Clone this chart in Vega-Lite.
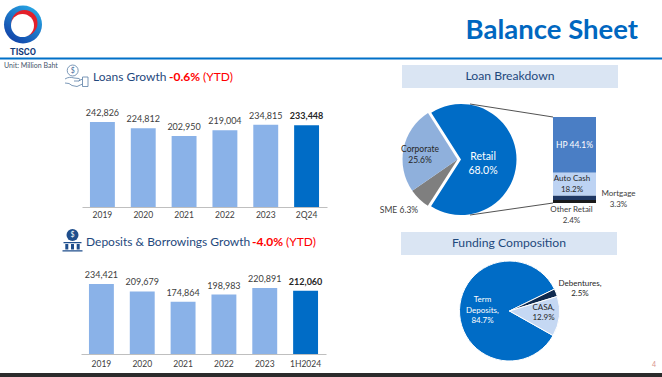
{
"$schema":"https://vega.github.io/schema/vega-lite/v6.json",
"width":662,"height":377,"padding":0,"autosize":{"type":"none"},
"background":"white",
"config":{"view":{"stroke":null},"text":{"font":"Lato"},"axis":{"labelFont":"Lato"}},
"data":{"values":[{}]},
"datasets":{
"loans":[{"period":"2019","amount":242826,"kind":"past"},{"period":"2020","amount":224812,"kind":"past"},{"period":"2021","amount":202950,"kind":"past"},{"period":"2022","amount":219004,"kind":"past"},{"period":"2023","amount":234815,"kind":"past"},{"period":"2Q24","amount":233448,"kind":"current"}],
"deposits":[{"period":"2019","amount":234421,"kind":"past"},{"period":"2020","amount":209679,"kind":"past"},{"period":"2021","amount":174864,"kind":"past"},{"period":"2022","amount":198983,"kind":"past"},{"period":"2023","amount":220891,"kind":"past"},{"period":"1H2024","amount":212060,"kind":"current"}],
"loanMix":[{"name":"Retail","share":68.0,"rank":1,"label":"Retail\n68.0%"},{"name":"SME","share":6.3,"rank":2,"label":"SME 6.3%"},{"name":"Corporate","share":25.6,"rank":3,"label":"Corporate\n25.6%"}],
"retailMix":[{"name":"HP","share":44.1,"rank":1,"label":"HP 44.1%"},{"name":"Auto Cash","share":18.2,"rank":2,"label":"Auto Cash\n18.2%"},{"name":"Mortgage","share":3.3,"rank":3,"label":"Mortgage\n3.3%"},{"name":"Other Retail","share":2.4,"rank":4,"label":"Other Retail\n2.4%"}],
"funding":[{"name":"Term Deposits","share":84.7,"rank":1,"label":"Term\nDeposits,\n84.7%"},{"name":"Debentures","share":2.5,"rank":2,"label":"Debentures,\n2.5%"},{"name":"CASA","share":12.9,"rank":3,"label":"CASA,\n12.9%"}]
},
"resolve":{"scale":{"x":"independent","y":"independent","theta":"independent","color":"independent"},"axis":{"x":"independent","y":"independent"}},
"layer":[
{"mark":{"type":"rect","fill":"#2B2B2B"},"encoding":{"x":{"value":0},"x2":{"value":662},"y":{"value":373},"y2":{"value":377}}},
{"mark":{"type":"rect","fill":"#0070C8"},"encoding":{"x":{"value":0},"x2":{"value":662},"y":{"value":57.5},"y2":{"value":59.5}}},
{"mark":{"type":"rect","fill":"#DAE5F3"},"encoding":{"x":{"value":402},"x2":{"value":618},"y":{"value":65},"y2":{"value":88}}},
{"mark":{"type":"rect","fill":"#DAE5F3"},"encoding":{"x":{"value":401},"x2":{"value":617},"y":{"value":232},"y2":{"value":255}}},
{"mark":{"type":"text","text":"Balance Sheet","x":638,"y":31,"align":"right","baseline":"middle","fontSize":27.5,"fontWeight":"bold","fill":"#0067C0"},"encoding":{}},
{"mark":{"type":"text","text":"Unit: Million Baht","x":4,"y":66,"align":"left","baseline":"middle","fontSize":7,"fill":"#44546A"},"encoding":{}},
{"mark":{"type":"text","text":"Loans Growth","x":93,"y":77,"align":"left","baseline":"middle","fontSize":12,"fill":"#1F497D"},"encoding":{}},
{"mark":{"type":"text","text":"-0.6%","x":169,"y":77,"align":"left","baseline":"middle","fontSize":12,"fontWeight":"bold","fill":"#FF0000"},"encoding":{}},
{"mark":{"type":"text","text":"(YTD)","x":203,"y":77,"align":"left","baseline":"middle","fontSize":12,"fill":"#FF0000"},"encoding":{}},
{"mark":{"type":"text","text":"Deposits & Borrowings Growth","x":86,"y":242,"align":"left","baseline":"middle","fontSize":12,"fill":"#1F497D"},"encoding":{}},
{"mark":{"type":"text","text":"-4.0%","x":252,"y":242,"align":"left","baseline":"middle","fontSize":12,"fontWeight":"bold","fill":"#FF0000"},"encoding":{}},
{"mark":{"type":"text","text":"(YTD)","x":286,"y":242,"align":"left","baseline":"middle","fontSize":12,"fill":"#FF0000"},"encoding":{}},
{"mark":{"type":"text","text":"Loan Breakdown","x":510,"y":76,"align":"center","baseline":"middle","fontSize":12.2,"fill":"#1F497D"},"encoding":{}},
{"mark":{"type":"text","text":"Funding Composition","x":509,"y":243,"align":"center","baseline":"middle","fontSize":12.2,"fill":"#1F497D"},"encoding":{}},
{"mark":{"type":"text","text":"4","x":654,"y":365,"align":"center","baseline":"middle","fontSize":7,"fill":"#D9948C"},"encoding":{}},

{"mark":{"type":"point","shape":"circle","x":23,"y":24.5,"size":1444,"filled":true,"opacity":1,"strokeWidth":0,"fill":{"x1":0.85,"y1":0.05,"x2":0.2,"y2":0.95,"gradient":"linear","stops":[{"offset":0,"color":"#27A9E6"},{"offset":1,"color":"#1242A8"}]}},"encoding":{}},
{"mark":{"type":"point","shape":"circle","x":24.5,"y":23,"size":676,"filled":true,"opacity":1,"strokeWidth":0,"fill":"#E3202A"},"encoding":{}},
{"mark":{"type":"point","shape":"circle","x":22.5,"y":25.5,"size":529,"filled":true,"opacity":1,"strokeWidth":0,"fill":"#FFFFFF"},"encoding":{}},
{"mark":{"type":"text","text":"TISCO","x":23,"y":51.5,"align":"center","baseline":"middle","fontSize":9,"font":"Roboto","fontWeight":"bold","fill":"#123A7A"},"encoding":{}},

{"mark":{"type":"point","shape":"circle","x":72.7,"y":70.5,"size":120,"filled":false,"opacity":1,"strokeWidth":0.8,"stroke":"#5B7FA6"},"encoding":{}},
{"mark":{"type":"text","text":"$","x":72.7,"y":70.7,"align":"center","baseline":"middle","fontSize":7,"fill":"#3F6B9E"},"encoding":{}},
{"mark":{"type":"point","shape":"M-1.1,0.1 C-0.8,-0.1 -0.5,-0.1 -0.2,0.0 L0.3,0.05 C0.45,0.1 0.4,0.3 0.25,0.3 L-0.2,0.3 M0.25,0.3 L0.65,0.1 M0.65,0.6 L0.1,0.85 L-0.4,0.75 L-0.7,0.55 L-1.1,0.5 M0.65,-0.1 L1.2,-0.1 L1.2,0.85 L0.65,0.85 Z","x":76,"y":78,"size":400,"filled":false,"opacity":1,"strokeWidth":0.8,"stroke":"#5B7FA6"},"encoding":{}},

{"mark":{"type":"point","shape":"circle","x":72.5,"y":235,"size":144,"filled":true,"opacity":1,"strokeWidth":0,"fill":"#1F4E8C"},"encoding":{}},
{"mark":{"type":"text","text":"$","x":72.5,"y":235,"align":"center","baseline":"middle","fontSize":7,"fill":"#FFFFFF"},"encoding":{}},
{"mark":{"type":"point","shape":"M-0.9,0.0 L0.9,0.0 L0.9,0.12 L-0.9,0.12 Z M-0.72,0.2 L-0.42,0.2 L-0.42,0.75 L-0.72,0.75 Z M-0.15,0.2 L0.15,0.2 L0.15,0.75 L-0.15,0.75 Z M0.42,0.2 L0.72,0.2 L0.72,0.75 L0.42,0.75 Z M-1,0.82 L1,0.82 L1,0.95 L-1,0.95 Z","x":72.5,"y":242,"size":400,"filled":true,"opacity":1,"strokeWidth":0,"fill":"#1F4E8C"},"encoding":{}},

{"data":{"name":"loans"},
 "encoding":{"x":{"field":"period","type":"nominal","sort":null,"title":null,
   "scale":{"range":[82,327],"paddingInner":0.39,"paddingOuter":0.195},
   "axis":{"orient":"bottom","offset":-170,"labelAngle":0,"labelFontSize":8.5,"labelColor":"#404040","labelPadding":3,"ticks":false,"grid":false,"domainColor":"#BFBFBF","domainWidth":1.2}},
  "y":{"field":"amount","type":"quantitative","title":null,"axis":null,"scale":{"domain":[0,242826],"range":[207,122]}}},
 "layer":[
  {"mark":{"type":"bar"},"encoding":{"color":{"field":"kind","type":"nominal","legend":null,"scale":{"domain":["past","current"],"range":["#8AB2E8","#006CC6"]}}}},
  {"transform":[{"filter":"datum.kind==='past'"}],"mark":{"type":"text","baseline":"bottom","dy":-4,"fontSize":9,"fill":"#404040"},"encoding":{"text":{"field":"amount","type":"quantitative","format":","}}},
  {"transform":[{"filter":"datum.kind==='current'"}],"mark":{"type":"text","baseline":"bottom","dy":-4,"fontSize":9,"fontWeight":"bold","fill":"#262626"},"encoding":{"text":{"field":"amount","type":"quantitative","format":","}}}
 ]},
{"data":{"name":"deposits"},
 "encoding":{"x":{"field":"period","type":"nominal","sort":null,"title":null,
   "scale":{"range":[81,326],"paddingInner":0.39,"paddingOuter":0.195},
   "axis":{"orient":"bottom","offset":-23,"labelAngle":0,"labelFontSize":8.5,"labelColor":"#404040","labelPadding":5,"ticks":false,"grid":false,"domainColor":"#BFBFBF","domainWidth":1.2}},
  "y":{"field":"amount","type":"quantitative","title":null,"axis":null,"scale":{"domain":[0,234421],"range":[354,284]}}},
 "layer":[
  {"mark":{"type":"bar"},"encoding":{"color":{"field":"kind","type":"nominal","legend":null,"scale":{"domain":["past","current"],"range":["#8AB2E8","#006CC6"]}}}},
  {"transform":[{"filter":"datum.kind==='past'"}],"mark":{"type":"text","baseline":"bottom","dy":-4,"fontSize":9,"fill":"#404040"},"encoding":{"text":{"field":"amount","type":"quantitative","format":","}}},
  {"transform":[{"filter":"datum.kind==='current'"}],"mark":{"type":"text","baseline":"bottom","dy":-4,"fontSize":9,"fontWeight":"bold","fill":"#262626"},"encoding":{"text":{"field":"amount","type":"quantitative","format":","}}}
 ]},

{"mark":{"type":"rule","stroke":"#262626","strokeWidth":0.8},"encoding":{"x":{"value":470},"x2":{"value":553},"y":{"value":104},"y2":{"value":117}}},
{"mark":{"type":"rule","stroke":"#262626","strokeWidth":0.8},"encoding":{"x":{"value":470},"x2":{"value":553},"y":{"value":215},"y2":{"value":203}}},

{"data":{"name":"loanMix"},
 "transform":[{"stack":"share","groupby":[],"sort":[{"field":"rank","order":"ascending"}],"as":["a0","a1"]},{"filter":"datum.name==='Retail'"}],
 "mark":{"type":"arc","outerRadius":55.5,"innerRadius":0},
 "encoding":{"x":{"value":461},"y":{"value":159.5},
  "theta":{"field":"a0","type":"quantitative","scale":{"domain":[0,99.9],"range":[-0.5655,5.7177]}},"theta2":{"field":"a1"},
  "color":{"field":"name","type":"nominal","legend":null,"scale":{"domain":["Retail"],"range":["#006CC6"]}}}},
{"data":{"name":"loanMix"},
 "transform":[{"stack":"share","groupby":[],"sort":[{"field":"rank","order":"ascending"}],"as":["a0","a1"]},{"filter":"datum.name!=='Retail'"}],
 "mark":{"type":"arc","outerRadius":55,"innerRadius":0},
 "encoding":{"x":{"value":457.5},"y":{"value":159.5},
  "theta":{"field":"a0","type":"quantitative","scale":{"domain":[0,99.9],"range":[-0.5655,5.7177]}},"theta2":{"field":"a1"},
  "color":{"field":"name","type":"nominal","legend":null,"scale":{"domain":["SME","Corporate"],"range":["#7F7F7F","#8FB0DC"]}}}},

{"data":{"name":"retailMix"},
 "transform":[{"stack":"share","groupby":[],"sort":[{"field":"rank","order":"ascending"}],"as":["s0","s1"]}],
 "mark":{"type":"bar"},
 "encoding":{"x":{"value":553},"x2":{"value":596},
  "y":{"field":"s0","type":"quantitative","axis":null,"scale":{"domain":[0,68],"range":[117,203]}},"y2":{"field":"s1"},
  "color":{"field":"name","type":"nominal","legend":null,"scale":{"domain":["HP","Auto Cash","Mortgage","Other Retail"],"range":["#4A7EC5","#BDD3F3","#1F3864","#1A1A1A"]}}}},

{"data":{"name":"funding"},
 "mark":{"type":"arc","outerRadius":50,"innerRadius":0,"stroke":"#FFFFFF","strokeWidth":1},
 "encoding":{"x":{"value":509.5},"y":{"value":311},
  "theta":{"field":"share","type":"quantitative","stack":true,"scale":{"domain":[0,100.1],"range":[2.084,8.3672]}},
  "order":{"field":"rank"},
  "color":{"field":"name","type":"nominal","legend":null,"scale":{"domain":["Term Deposits","Debentures","CASA"],"range":["#006CC6","#0F2A4F","#C5D8F3"]}}}},

{"data":{"name":"loanMix"},"transform":[{"filter":"datum.name==='Retail'"}],"mark":{"type":"text","x":483,"y":157,"align":"center","baseline":"middle","lineBreak":"\n","lineHeight":14,"fontSize":10.5,"fill":"#FFFFFF"},"encoding":{"text":{"field":"label"}}},
{"data":{"name":"loanMix"},"transform":[{"filter":"datum.name==='Corporate'"}],"mark":{"type":"text","x":420,"y":149,"align":"center","baseline":"middle","lineBreak":"\n","lineHeight":11,"fontSize":8.5,"fill":"#262626"},"encoding":{"text":{"field":"label"}}},
{"data":{"name":"loanMix"},"transform":[{"filter":"datum.name==='SME'"}],"mark":{"type":"text","x":399,"y":210,"align":"center","baseline":"middle","fontSize":8.5,"fill":"#404040"},"encoding":{"text":{"field":"label"}}},
{"data":{"name":"retailMix"},"transform":[{"filter":"datum.name==='HP'"}],"mark":{"type":"text","x":574.5,"y":145,"align":"center","baseline":"middle","fontSize":8.5,"fill":"#FFFFFF"},"encoding":{"text":{"field":"label"}}},
{"data":{"name":"retailMix"},"transform":[{"filter":"datum.name==='Auto Cash'"}],"mark":{"type":"text","x":572,"y":179,"align":"center","baseline":"middle","lineBreak":"\n","lineHeight":11,"fontSize":8,"fill":"#262626"},"encoding":{"text":{"field":"label"}}},
{"data":{"name":"retailMix"},"transform":[{"filter":"datum.name==='Mortgage'"}],"mark":{"type":"text","x":618.5,"y":194,"align":"center","baseline":"middle","lineBreak":"\n","lineHeight":10.5,"fontSize":8,"fill":"#404040"},"encoding":{"text":{"field":"label"}}},
{"data":{"name":"retailMix"},"transform":[{"filter":"datum.name==='Other Retail'"}],"mark":{"type":"text","x":571.5,"y":210,"align":"center","baseline":"middle","lineBreak":"\n","lineHeight":10.5,"fontSize":8,"fill":"#404040"},"encoding":{"text":{"field":"label"}}},
{"data":{"name":"funding"},"transform":[{"filter":"datum.name==='Term Deposits'"}],"mark":{"type":"text","x":482.5,"y":300,"align":"center","baseline":"middle","lineBreak":"\n","lineHeight":10.5,"fontSize":8,"fill":"#FFFFFF"},"encoding":{"text":{"field":"label"}}},
{"data":{"name":"funding"},"transform":[{"filter":"datum.name==='Debentures'"}],"mark":{"type":"text","x":580,"y":284,"align":"center","baseline":"middle","lineBreak":"\n","lineHeight":10,"fontSize":8,"fill":"#262626"},"encoding":{"text":{"field":"label"}}},
{"data":{"name":"funding"},"transform":[{"filter":"datum.name==='CASA'"}],"mark":{"type":"text","x":543.5,"y":308,"align":"center","baseline":"middle","lineBreak":"\n","lineHeight":10,"fontSize":8,"fill":"#262626"},"encoding":{"text":{"field":"label"}}}
]
}
